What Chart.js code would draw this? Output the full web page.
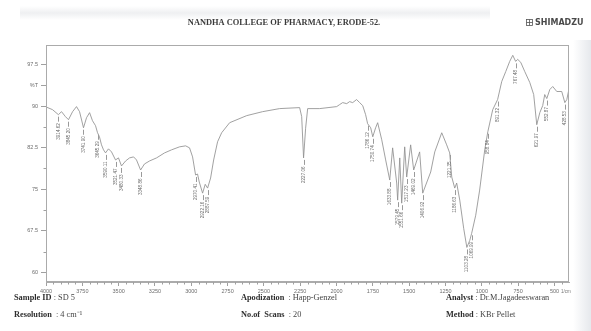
<!DOCTYPE html>
<html>
<head>
<meta charset="utf-8">
<script src="https://cdn.jsdelivr.net/npm/chart.js@4.4.1/dist/chart.umd.min.js"></script>
<style>
  html, body { margin: 0; padding: 0; background: #ffffff; }
  #wrap { width: 591px; height: 331px; }
</style>
</head>
<body>
<div id="wrap"><canvas id="ir" width="591" height="331"></canvas></div>
<script>
// FTIR spectrum of sample SD 5 (KBr pellet), wavenumber in 1/cm, transmittance in %T
const wavenumbers = [
  3997, 3955, 3914.62, 3893, 3866, 3845.20, 3817, 3790, 3769, 3741.90,
  3721, 3700, 3680, 3659, 3645.29, 3632, 3618, 3604, 3590.11, 3570,
  3549, 3521.47, 3501, 3480.33, 3452, 3425, 3397, 3377, 3348.86, 3322,
  3287, 3239, 3184, 3136, 3081, 3039, 3012, 2991, 2970.41, 2957,
  2945, 2922.16, 2904, 2887.59, 2867, 2846, 2819, 2791, 2736, 2619,
  2509, 2392, 2254, 2240, 2227.06, 2213, 2199, 2116, 1999, 1979,
  1958, 1930, 1910, 1889, 1862, 1841, 1820, 1800, 1786.12, 1765,
  1750.74, 1731, 1717, 1689, 1662, 1633.88, 1614, 1586, 1579.45, 1565,
  1551.66, 1531, 1517.23, 1490, 1469.02, 1428, 1406.92, 1373, 1352, 1324,
  1276, 1242, 1221.35, 1207, 1186.63, 1173, 1152, 1125, 1103.28, 1083,
  1069.99, 1042, 1015, 980, 958.84, 925, 891.32, 863, 835, 808,
  787, 767.48, 753, 732, 705, 670, 643, 621.97, 601, 581,
  567, 552.87, 532, 512, 484, 450, 428.53, 415, 401
];
const transmittance = [
  89.81, 89.35, 88.45, 88.99, 88.09, 87.54, 88.99, 89.90, 88.99, 86.09,
  87.90, 88.81, 87.36, 86.46, 85.19, 84.46, 83.01, 82.11, 81.56, 82.29,
  81.74, 80.29, 80.66, 79.21, 80.11, 80.66, 80.84, 80.29, 78.48, 79.57,
  80.11, 80.66, 81.56, 82.11, 82.65, 82.83, 82.47, 80.84, 77.58, 77.76,
  76.31, 74.31, 75.90, 75.22, 77.03, 80.29, 83.56, 85.19, 87.00, 88.27,
  88.99, 89.54, 89.72, 88.09, 80.66, 86.00, 89.54, 89.54, 89.90, 90.26,
  90.62, 90.44, 90.80, 90.62, 91.17, 90.62, 90.08, 88.45, 86.82, 86.09,
  84.46, 86.09, 87.00, 83.92, 80.29, 76.67, 82.47, 76.13, 73.05, 80.66,
  72.50, 82.65, 77.21, 83.01, 78.48, 81.74, 74.31, 76.67, 78.12, 81.74,
  85.19, 83.01, 81.56, 77.21, 75.22, 76.13, 73.05, 67.97, 64.53, 65.80,
  67.07, 70.33, 74.86, 82.11, 85.37, 89.35, 91.17, 94.43, 96.24, 98.05,
  99.14, 98.05, 98.41, 97.87, 96.24, 94.25, 92.07, 86.64, 88.81, 90.08,
  92.07, 91.35, 92.98, 93.52, 92.62, 92.62, 90.62, 91.17, 92.98
];
// Band positions annotated under the spectrum
const peaks = [
  3914.62, 3845.20, 3741.90, 3645.29, 3590.11, 3521.47, 3480.33, 3348.86,
  2970.41, 2922.16, 2887.59, 2227.06, 1786.12, 1750.74, 1633.88, 1579.45,
  1551.66, 1517.23, 1469.02, 1406.92, 1221.35, 1186.63, 1103.28, 1069.99,
  958.84, 891.32, 767.48, 621.97, 552.87, 428.53
];
const xTickLabels = [4000, 3750, 3500, 3250, 3000, 2750, 2500, 2250, 2000, 1750, 1500, 1250, 1000, 750, 500];
const yTickLabels = [60, 67.5, 75, 82.5, 90, 93.75, 97.5];
const yUnitTick = 93.75;

const headerTitle = 'NANDHA COLLEGE OF PHARMACY, ERODE-52.';
const brandName = 'SHIMADZU';
const footerRows = [
  [['Sample ID', ' : SD 5'], ['Apodization', '  : Happ-Genzel'], ['Analyst', ' : Dr.M.Jagadeeswaran']],
  [['Resolution', '  : 4 cm\u207B\u00B9'], ['No.of  Scans', '  : 20'], ['Method', ' : KBr Pellet']]
];

const points = wavenumbers.map((w, i) => ({ x: w, y: transmittance[i] }));

const decor = {
  id: 'decor',
  beforeDraw(chart) {
    const ctx = chart.ctx;
    ctx.save();
    ctx.fillStyle = '#ffffff';
    ctx.fillRect(0, 0, chart.width, chart.height);
    // scanner shading on the top band and right margin
    let g = ctx.createLinearGradient(0, 6, 0, 20);
    g.addColorStop(0, 'rgba(200,204,210,0)');
    g.addColorStop(0.5, 'rgba(200,204,210,0.3)');
    g.addColorStop(1, 'rgba(200,204,210,0)');
    ctx.fillStyle = g;
    ctx.fillRect(20, 6, 470, 14);
    g = ctx.createLinearGradient(573, 0, 591, 0);
    g.addColorStop(0, 'rgba(205,210,218,0)');
    g.addColorStop(1, 'rgba(205,210,218,0.5)');
    ctx.fillStyle = g;
    ctx.fillRect(573, 40, 18, 291);
    ctx.restore();
  },
  afterDraw(chart) {
    const ctx = chart.ctx;
    const a = chart.chartArea;
    const xs = chart.scales.x, ys = chart.scales.y;
    ctx.save();
    // plot frame
    ctx.strokeStyle = '#ababab';
    ctx.lineWidth = 1;
    ctx.strokeRect(a.left + 0.5, a.top + 0.5, a.right - a.left - 1, a.bottom - a.top - 1);
    // minor ticks
    ctx.strokeStyle = '#a0a0a0';
    ctx.beginPath();
    for (let w = 4000; w >= 450; w -= 50) {
      if (w % 250 === 0) continue;
      const px = Math.round(xs.getPixelForValue(w)) + 0.5;
      ctx.moveTo(px, a.bottom);
      ctx.lineTo(px, a.bottom + 2.5);
    }
    for (let v = 60; v <= 101; v += 3.75) {
      if (yTickLabels.includes(v)) continue;
      const py = Math.round(ys.getPixelForValue(v)) + 0.5;
      ctx.moveTo(a.left, py);
      ctx.lineTo(a.left - 2.5, py);
    }
    ctx.stroke();

    // band annotations
    ctx.strokeStyle = '#9a9a9a';
    ctx.fillStyle = '#6a6a6a';
    ctx.font = '4.6px "Liberation Sans", Arial, sans-serif';
    ctx.textBaseline = 'middle';
    ctx.textAlign = 'right';
    peaks.forEach(p => {
      const i = wavenumbers.indexOf(p);
      if (i < 0) return;
      const px = xs.getPixelForValue(p);
      const py = ys.getPixelForValue(transmittance[i]);
      ctx.beginPath();
      ctx.moveTo(Math.round(px) + 0.5, py + 2);
      ctx.lineTo(Math.round(px) + 0.5, py + 7);
      ctx.stroke();
      ctx.save();
      ctx.translate(px, py + 8.5);
      ctx.rotate(-Math.PI / 2);
      ctx.fillText(p.toFixed(2), 0, 0);
      ctx.restore();
    });

    // unit under the x axis end
    ctx.fillStyle = '#777777';
    ctx.textAlign = 'left';
    ctx.font = '4.5px "Liberation Sans", Arial, sans-serif';
    ctx.fillText('1/cm', a.right - 8, a.bottom + 10);

    // header
    ctx.fillStyle = '#3a3a3a';
    ctx.textAlign = 'center';
    ctx.textBaseline = 'middle';
    ctx.font = 'bold 8.4px "Liberation Serif", "Times New Roman", serif';
    ctx.fillText(headerTitle, 284, 22.5);
    ctx.strokeStyle = '#555555';
    ctx.lineWidth = 0.8;
    ctx.strokeRect(526.5, 19.5, 6, 6);
    ctx.beginPath();
    ctx.moveTo(529.5, 19.5); ctx.lineTo(529.5, 25.5);
    ctx.moveTo(526.5, 22.5); ctx.lineTo(532.5, 22.5);
    ctx.stroke();
    ctx.fillStyle = '#4a4a4a';
    ctx.textAlign = 'left';
    ctx.font = 'bold 8px "DejaVu Sans", sans-serif';
    ctx.fillText(brandName, 535, 22.8);

    // acquisition details
    const colX = [14, 241, 446];
    const rowY = [298, 315];
    footerRows.forEach((row, r) => {
      row.forEach((cell, c) => {
        ctx.font = 'bold 8.3px "Liberation Serif", "Times New Roman", serif';
        ctx.fillStyle = '#2e2e2e';
        ctx.fillText(cell[0], colX[c], rowY[r]);
        const w = ctx.measureText(cell[0]).width;
        ctx.font = '8.3px "Liberation Serif", "Times New Roman", serif';
        ctx.fillStyle = '#444444';
        ctx.fillText(cell[1], colX[c] + w, rowY[r]);
      });
    });
    ctx.restore();
  }
};

new Chart(document.getElementById('ir'), {
  type: 'line',
  data: {
    datasets: [{
      data: points,
      borderColor: '#909090',
      borderWidth: 0.85,
      pointRadius: 0,
      tension: 0,
      fill: false
    }]
  },
  options: {
    responsive: false,
    animation: false,
    devicePixelRatio: 1,
    layout: { padding: { left: 0, top: 45, right: 22, bottom: 0 } },
    plugins: { legend: { display: false }, tooltip: { enabled: false } },
    scales: {
      x: {
        type: 'linear',
        reverse: true,
        min: 400,
        max: 4000,
        afterBuildTicks(s) { s.ticks = xTickLabels.map(v => ({ value: v })); },
        afterFit(s) { s.height = 49; },
        ticks: {
          autoSkip: false,
          maxRotation: 0,
          padding: 2,
          color: '#6e6e6e',
          font: { family: '"Liberation Sans", Arial, sans-serif', size: 5.5 },
          callback: v => String(v)
        },
        grid: { drawOnChartArea: false, tickLength: 4, color: '#a0a0a0' },
        border: { display: true, color: '#ababab' }
      },
      y: {
        type: 'linear',
        min: 58.3,
        max: 101,
        afterBuildTicks(s) { s.ticks = yTickLabels.map(v => ({ value: v })); },
        afterFit(s) { s.width = 46; },
        ticks: {
          autoSkip: false,
          padding: 3,
          color: '#6e6e6e',
          font: { family: '"Liberation Sans", Arial, sans-serif', size: 5.5 },
          callback: v => (v === yUnitTick ? '%T' : String(v))
        },
        grid: { drawOnChartArea: false, tickLength: 5, color: '#a0a0a0' },
        border: { display: true, color: '#ababab' }
      }
    }
  },
  plugins: [decor]
});
</script>
</body>
</html>
